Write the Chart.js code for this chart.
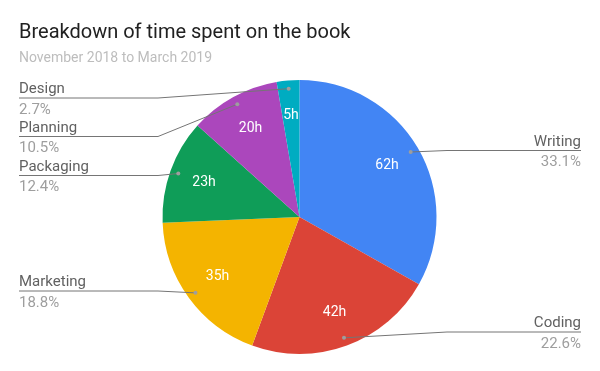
<!DOCTYPE html>
<html>
<head>
<meta charset="utf-8">
<script src="https://cdn.jsdelivr.net/npm/chart.js@4"></script>
<style>
  body { margin: 0; background: #fff; }
  canvas { display: block; }
</style>
</head>
<body>
<canvas id="chart" width="600" height="371"></canvas>
<script>
// данные
const categories = ['Writing', 'Coding', 'Marketing', 'Packaging', 'Planning', 'Design'];
const hours = [62, 42, 35, 23, 20, 5];
const shares = ['33.1%', '22.6%', '18.8%', '12.4%', '10.5%', '2.7%'];
const colors = ['#4285F4', '#DB4437', '#F4B400', '#0F9D58', '#AB47BC', '#00ACC1'];

const titleText = 'Breakdown of time spent on the book';
const subtitleText = 'November 2018 to March 2019';

// где стоят подписи снаружи (side, y линии)
const labelLayout = [
    { side: 'right', y: 150.5 },
    { side: 'right', y: 332 },
    { side: 'left', y: 291 },
    { side: 'left', y: 175.5 },
    { side: 'left', y: 136.5 },
    { side: 'left', y: 98 }
];

const FONT = 'Roboto, "Noto Sans", Arial, sans-serif';

const decorPlugin = {
    id: 'decor',
    afterDatasetsDraw(chart) {
        const ctx = chart.ctx;
        const meta = chart.getDatasetMeta(0);
        ctx.save();

        // заголовок
        ctx.textBaseline = 'alphabetic';
        ctx.textAlign = 'left';
        ctx.fillStyle = '#212121';
        ctx.font = '20px ' + FONT;
        ctx.fillText(titleText, 19, 38);
        ctx.fillStyle = '#bdbdbd';
        ctx.font = '14px ' + FONT;
        ctx.fillText(subtitleText, 19, 62);

        meta.data.forEach((arc, i) => {
            const p = arc.getProps(['x', 'y', 'startAngle', 'endAngle', 'outerRadius'], true);
            const mid = (p.startAngle + p.endAngle) / 2;

            // часы внутри сектора
            const lr = p.outerRadius * 0.74;
            ctx.fillStyle = '#ffffff';
            ctx.font = '14px ' + FONT;
            ctx.textAlign = 'center';
            ctx.textBaseline = 'middle';
            ctx.fillText(hours[i] + 'h', p.x + Math.cos(mid) * lr, p.y + Math.sin(mid) * lr);

            // выноска
            const dr = p.outerRadius * 0.94;
            const dx = p.x + Math.cos(mid) * dr;
            const dy = p.y + Math.sin(mid) * dr;
            const lay = labelLayout[i];
            const isLeft = lay.side === 'left';
            const endX = isLeft ? 19 : 581;
            const elbowX = isLeft ? Math.min(158, dx) : Math.max(447, dx);

            ctx.strokeStyle = '#757575';
            ctx.lineWidth = 1;
            ctx.beginPath();
            ctx.moveTo(dx, dy);
            ctx.lineTo(elbowX, lay.y);
            ctx.lineTo(endX, lay.y);
            ctx.stroke();

            ctx.fillStyle = '#9e9e9e';
            ctx.beginPath();
            ctx.arc(dx, dy, 2, 0, Math.PI * 2);
            ctx.fill();

            ctx.textAlign = isLeft ? 'left' : 'right';
            ctx.textBaseline = 'alphabetic';
            ctx.font = '15px ' + FONT;
            ctx.fillStyle = '#616161';
            ctx.fillText(categories[i], endX, lay.y - 5);
            ctx.fillStyle = '#9e9e9e';
            ctx.fillText(shares[i], endX, lay.y + 15.5);
        });

        ctx.restore();
    }
};

new Chart(document.getElementById('chart'), {
    type: 'pie',
    data: {
        labels: categories,
        datasets: [{
            data: hours,
            backgroundColor: colors,
            borderColor: '#ffffff',
            borderWidth: 0
        }]
    },
    options: {
        responsive: false,
        animation: false,
        layout: { padding: { top: 80, bottom: 17, left: 0, right: 1 } },
        plugins: {
            legend: { display: false },
            tooltip: { enabled: false }
        }
    },
    plugins: [decorPlugin]
});
</script>
</body>
</html>
